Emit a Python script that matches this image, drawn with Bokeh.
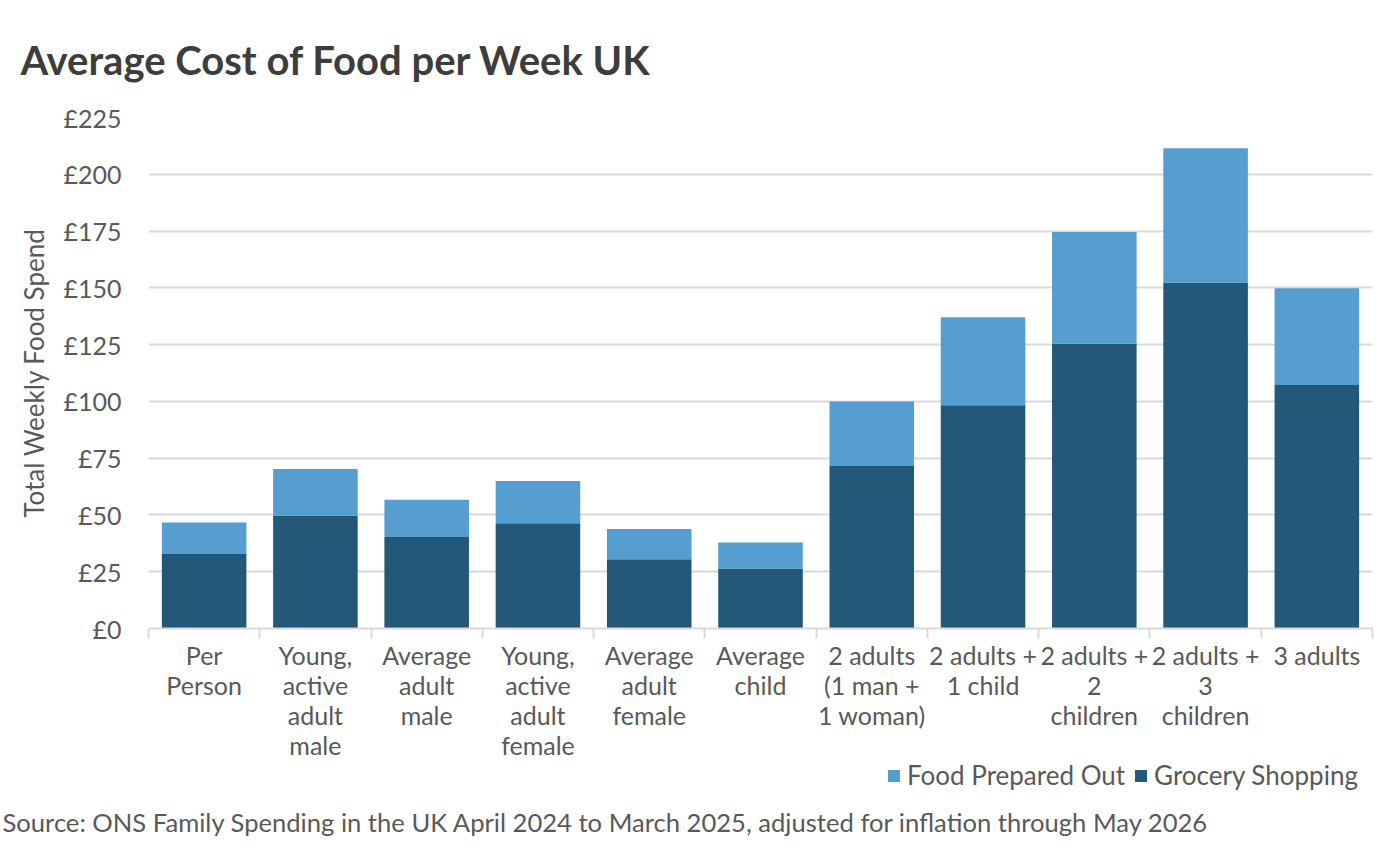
from bokeh.plotting import figure
from bokeh.layouts import column
from bokeh.models import (ColumnDataSource, Range1d, LinearAxis, FixedTicker,
                          PrintfTickFormatter, Legend, LegendItem, Title)
from bokeh.embed import file_html
from bokeh.resources import INLINE

categories = ["Per\nPerson", "Young,\nactive\nadult\nmale", "Average\nadult\nmale",
              "Young,\nactive\nadult\nfemale", "Average\nadult\nfemale", "Average\nchild",
              "2 adults\n(1 man +\n1 woman)", "2 adults +\n1 child", "2 adults +\n2\nchildren",
              "2 adults +\n3\nchildren", "3 adults"]
grocery = [32.8, 49.8, 40.3, 46.3, 30.5, 26.4, 71.6, 98.3, 125.4, 152.3, 107.2]
prepared = [13.9, 20.4, 16.4, 18.6, 13.3, 11.5, 28.4, 38.7, 49.2, 59.2, 42.6]
y_ticks = [0, 25, 50, 75, 100, 125, 150, 175, 200, 225]
series_names = ["Grocery Shopping", "Food Prepared Out"]

FONT = "Lato"
GRAY = "#595959"
DARK = "#245878"
LIGHT = "#559ECF"
GRID = "#d9d9d9"

idx = list(range(len(categories)))
source = ColumnDataSource(dict(x=idx, grocery=grocery, prepared=prepared))

p = figure(width=1384, height=762, output_backend="svg", toolbar_location=None,
           x_range=Range1d(-0.5, len(categories) - 0.5), y_range=Range1d(0, 225),
           x_axis_location=None, y_axis_location=None,
           min_border_left=148, min_border_right=12, min_border_top=116,
           min_border_bottom=134)
p.outline_line_color = None
p.background_fill_color = "white"
p.border_fill_color = "white"

rs = p.vbar_stack(["grocery", "prepared"], x="x", width=0.76, source=source,
                  color=[DARK, LIGHT], line_color=None)

# title
p.title = Title(text="Average Cost of Food per Week UK", align="left", offset=-128,
                standoff=67, text_font=FONT, text_font_size="40px",
                text_font_style="bold", text_color="#3d3d3d")

# y axis
yaxis = LinearAxis(ticker=FixedTicker(ticks=y_ticks),
                   formatter=PrintfTickFormatter(format="£%d"))
yaxis.axis_line_color = None
yaxis.major_tick_line_color = None
yaxis.minor_tick_line_color = None
yaxis.major_label_text_font = FONT
yaxis.major_label_text_font_size = "25px"
yaxis.major_label_text_color = GRAY
yaxis.major_label_standoff = 21
yaxis.axis_label = "Total Weekly Food Spend"
yaxis.axis_label_text_font = FONT
yaxis.axis_label_text_font_size = "26px"
yaxis.axis_label_text_font_style = "normal"
yaxis.axis_label_text_color = GRAY
yaxis.axis_label_standoff = 10
p.add_layout(yaxis, "left")

# x axis with category labels and separator ticks
xaxis = LinearAxis(ticker=FixedTicker(ticks=idx, minor_ticks=[i - 0.5 for i in range(len(categories) + 1)]))
xaxis.major_label_overrides = {i: c for i, c in zip(idx, categories)}
xaxis.axis_line_color = GRID
xaxis.axis_line_width = 2
xaxis.major_tick_line_color = None
xaxis.major_tick_in = 0
xaxis.major_tick_out = 0
xaxis.minor_tick_line_color = GRID
xaxis.minor_tick_line_width = 2
xaxis.minor_tick_in = 0
xaxis.minor_tick_out = 10
xaxis.major_label_text_font = FONT
xaxis.major_label_text_font_size = "25px"
xaxis.major_label_text_color = GRAY
xaxis.major_label_text_line_height = 1.0
xaxis.major_label_standoff = 1
p.add_layout(xaxis, "below")

p.ygrid.grid_line_color = GRID
p.ygrid.grid_line_width = 2
p.ygrid.ticker = FixedTicker(ticks=y_ticks[1:])
p.xgrid.grid_line_color = None

# footer: legend + source note; its bars have zero size so only legend swatches show
f = figure(width=1384, height=74, output_backend="svg", toolbar_location=None,
           x_range=Range1d(-0.5, len(categories) - 0.5), y_range=Range1d(-2, -1),
           x_axis_location=None, y_axis_location=None,
           min_border_left=148, min_border_right=12, min_border_top=0, min_border_bottom=0)
f.outline_line_color = None
f.grid.grid_line_color = None
f.title.visible = False
r_grocery = f.vbar(x="x", top="grocery", bottom="grocery", width=0, source=source,
                   fill_color=DARK, line_color=None)
r_prepared = f.vbar(x="x", top="prepared", bottom="prepared", width=0, source=source,
                    fill_color=LIGHT, line_color=None)

legend = Legend(items=[LegendItem(label=series_names[1], renderers=[r_prepared]),
                       LegendItem(label=series_names[0], renderers=[r_grocery])],
                location=(738, 13), orientation="horizontal")
legend.border_line_color = None
legend.background_fill_alpha = 0
legend.label_text_font = FONT
legend.label_text_font_size = "26px"
legend.label_text_line_height = 1.0
legend.label_text_color = GRAY
legend.glyph_width = 15
legend.glyph_height = 15
legend.label_standoff = 6
legend.spacing = 8
legend.padding = 0
legend.margin = 0
f.add_layout(legend, "center")

src = Title(text="Source: ONS Family Spending in the UK April 2024 to March 2025, adjusted for inflation through May 2026",
            align="left", offset=-146, standoff=0, text_font=FONT, text_font_size="25.6px",
            text_font_style="normal", text_color=GRAY)
f.add_layout(src, "below")

layout = column(p, f, spacing=0)
open("out.html", "w").write(file_html(layout, INLINE))
